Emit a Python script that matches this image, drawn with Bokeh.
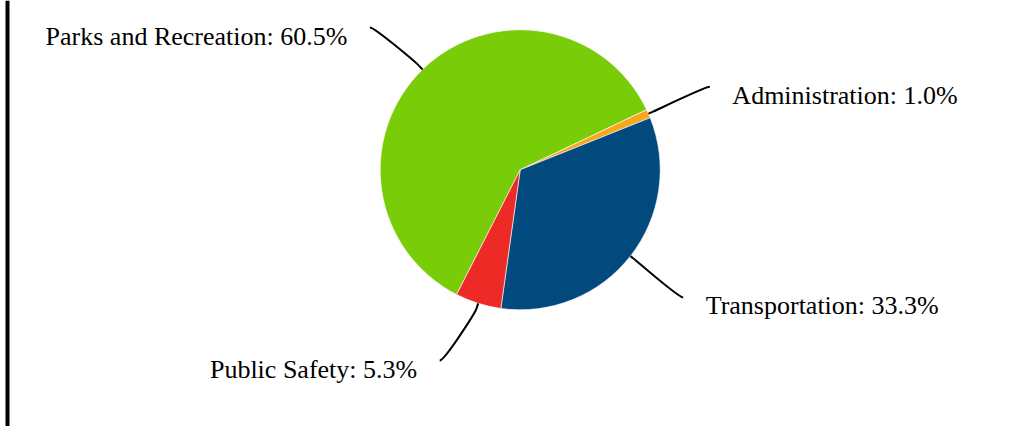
import math
from bokeh.plotting import figure
from bokeh.models import Range1d, Span, ColumnDataSource
from bokeh.core.properties import value
from bokeh.embed import file_html
from bokeh.resources import INLINE

# ---- data ----
categories = ["Parks and Recreation", "Administration", "Transportation", "Public Safety"]
shares = [60.5, 1.0, 33.3, 5.3]
colors = ["#79CC08", "#F6A81C", "#02497E", "#EE2A26"]

# ---- layout ----
W, H = 1018, 426
CX, CY_S, R = 519.7, 169.3, 140.0   # centre (screen y) and radius in px
START_DEG = 243.0                    # first slice starts here, runs clockwise
LABEL_R = 207.0
LABEL_GAP = 22.5
Y_MIN, Y_MAX = 27.0, 360.0
TEXT_DY = 8.5


def sy(y):
    return H - y


p = figure(width=W, height=H, output_backend="svg", toolbar_location=None,
           x_range=Range1d(0, W), y_range=Range1d(0, H), min_border=0)
p.axis.visible = False
p.grid.visible = False
p.outline_line_color = None
p.background_fill_color = "white"
p.border_fill_color = "white"

total = sum(shares)
starts, ends, mids = [], [], []
a = START_DEG
for s in shares:
    span = s / total * 360.0
    starts.append(a)
    ends.append(a - span)
    mids.append(a - span / 2)
    a -= span

src = ColumnDataSource(dict(
    x=[CX] * len(shares), y=[sy(CY_S)] * len(shares),
    start=[math.radians(v) for v in starts], end=[math.radians(v) for v in ends],
    color=colors))
p.wedge(x="x", y="y", radius=R, start_angle="start", end_angle="end",
        direction="clock", fill_color="color", line_color="white",
        line_width=0.6, source=src)

# connectors + labels
for name, s, m in zip(categories, shares, mids):
    mr = math.radians(m)
    c, sn = math.cos(mr), math.sin(mr)
    touch = (CX + R * c, CY_S - R * sn)
    brk = (CX + (R + 5) * c, CY_S - (R + 5) * sn)
    ctrl2 = (2 * brk[0] - touch[0], 2 * brk[1] - touch[1])
    ly = CY_S - LABEL_R * sn
    ly = min(max(ly, Y_MIN), Y_MAX)
    dy = ly - CY_S
    right = c > 0
    dx = math.sqrt(max(LABEL_R ** 2 - dy ** 2, 0))
    lx = CX + dx if right else CX - dx
    ctrl1 = (lx - 5 if right else lx + 5, ly)
    p.bezier(x0=[lx], y0=[sy(ly)], x1=[brk[0]], y1=[sy(brk[1])],
             cx0=[ctrl1[0]], cy0=[sy(ctrl1[1])], cx1=[ctrl2[0]], cy1=[sy(ctrl2[1])],
             line_color="black", line_width=2)
    p.segment(x0=[brk[0]], y0=[sy(brk[1])], x1=[touch[0]], y1=[sy(touch[1])],
              line_color="black", line_width=2)
    tx = lx + LABEL_GAP if right else lx - LABEL_GAP
    p.text(x=[tx], y=[sy(ly + TEXT_DY)], text=[f"{name}: {s:.1f}%"],
           text_font=value("Liberation Serif"), text_font_size="26px",
           text_color="black", text_baseline="alphabetic",
           text_align="left" if right else "right")

p.add_layout(Span(location=7, dimension="height", line_color="black", line_width=4))

open("out.html", "w").write(file_html(p, INLINE))
